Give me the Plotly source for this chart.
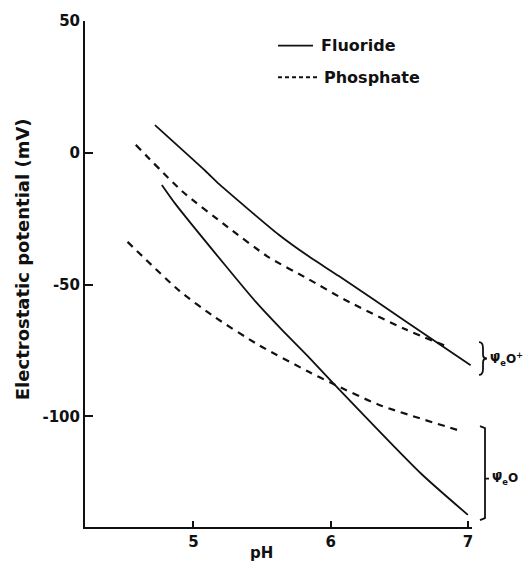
import plotly.graph_objects as go

# ---- data ----
fluoride_upper_ph = [4.72, 5.09, 5.19, 5.62, 5.84, 6.06, 6.54, 7.02]
fluoride_upper_mv = [10.5, -7.0, -12.0, -31.0, -39.3, -46.8, -63.7, -80.6]

fluoride_lower_ph = [4.77, 4.87, 5.23, 5.45, 5.64, 5.84, 6.02, 6.66, 7.0]
fluoride_lower_mv = [-12.2, -19.5, -42.6, -56.3, -66.9, -77.5, -87.5, -121.8, -137.4]

phosphate_upper_ph = [4.58, 4.92, 5.25, 5.55, 5.84, 6.10, 6.54, 6.83]
phosphate_upper_mv = [3.0, -14.7, -28.2, -39.7, -48.0, -55.7, -66.9, -73.1]

phosphate_lower_ph = [4.52, 4.90, 5.16, 5.48, 5.84, 6.01, 6.35, 6.95]
phosphate_lower_mv = [-33.8, -52.5, -62.5, -73.1, -83.1, -87.5, -95.6, -105.6]

x_ticks = [5, 6, 7]
y_ticks = [50, 0, -50, -100]
y_tick_labels = ["50", "0", "-50", "-100"]

X_RANGE = [4.21, 7.03]
Y_RANGE = [-142, 50]

FONT = "DejaVu Sans"
INK = "#111111"

fig = go.Figure()
line_solid = dict(color=INK, width=1.8, shape="spline", smoothing=0.6)
line_dash = dict(color=INK, width=2.2, dash="7px,6px", shape="spline", smoothing=0.6)

fig.add_trace(go.Scatter(x=fluoride_upper_ph, y=fluoride_upper_mv, mode="lines", line=line_solid, name="Fluoride"))
fig.add_trace(go.Scatter(x=fluoride_lower_ph, y=fluoride_lower_mv, mode="lines", line=line_solid, showlegend=False))
fig.add_trace(go.Scatter(x=phosphate_upper_ph, y=phosphate_upper_mv, mode="lines", line=line_dash, name="Phosphate"))
fig.add_trace(go.Scatter(x=phosphate_lower_ph, y=phosphate_lower_mv, mode="lines", line=line_dash, showlegend=False))

W, H = 526, 566
ML, MR, MT, MB = 85, 54, 15, 39
PW, PH = W - ML - MR, H - MT - MB


def px(xp):
    return (xp - ML) / PW


def py(yp):
    return 1 - (yp - MT) / PH


shapes = []
annotations = []


def txt(s, x, y, size, xanchor="left", angle=0, weight="bold"):
    annotations.append(dict(text=s, xref="paper", yref="paper", x=px(x), y=py(y), xanchor=xanchor,
                            yanchor="middle", textangle=angle, showarrow=False,
                            font=dict(family=FONT, size=size, color=INK, weight=weight)))


# manual legend
shapes.append(dict(type="line", xref="paper", yref="paper", x0=px(278), x1=px(313), y0=py(40), y1=py(40),
                   line=dict(color=INK, width=1.8)))
shapes.append(dict(type="line", xref="paper", yref="paper", x0=px(278), x1=px(319), y0=py(72), y1=py(72),
                   line=dict(color=INK, width=2, dash="4px,3px")))
txt("Fluoride", 319, 40, 16)
txt("Phosphate", 322, 72, 16)

# upper brace "}"
bx, t, b = 479, 340, 373
m = (t + b) / 2
path = (f"M {px(bx)},{py(t)} Q {px(bx+4)},{py(t)} {px(bx+4)},{py(t+6)} L {px(bx+4)},{py(m-4)} "
        f"Q {px(bx+4)},{py(m)} {px(bx+8)},{py(m)} Q {px(bx+4)},{py(m)} {px(bx+4)},{py(m+4)} "
        f"L {px(bx+4)},{py(b-6)} Q {px(bx+4)},{py(b)} {px(bx)},{py(b)}")
shapes.append(dict(type="path", xref="paper", yref="paper", path=path, line=dict(color=INK, width=1.8)))
txt("Ψ̄<sub>e</sub>O<sup>+</sup>", 488, 357, 12)

# lower bracket
bx, t, b = 480, 425, 520
m = 478
path = (f"M {px(bx)},{py(t)} L {px(bx+5)},{py(t+2)} L {px(bx+5)},{py(b-2)} L {px(bx)},{py(b)} "
        f"M {px(bx+5)},{py(m)} L {px(bx+9)},{py(m)}")
shapes.append(dict(type="path", xref="paper", yref="paper", path=path, line=dict(color=INK, width=1.8)))
txt("Ψ̄<sub>e</sub>O", 490, 478, 12)

# axis titles
txt("Electrostatic potential (mV)", 22, 256, 18, xanchor="center", angle=-90)
txt("pH", 261, 553, 15, xanchor="center")

tickfont = dict(family=FONT, size=15, color=INK, weight="bold")
fig.update_layout(
    width=W, height=H,
    margin=dict(l=ML, r=MR, t=MT, b=MB),
    paper_bgcolor="white", plot_bgcolor="white",
    showlegend=False,
    shapes=shapes, annotations=annotations,
    font=dict(family=FONT, size=15, color=INK),
    xaxis=dict(range=X_RANGE, tickvals=x_ticks, ticktext=[str(v) for v in x_ticks], ticks="inside",
               ticklen=6, tickwidth=1.5, tickcolor=INK, showline=True, linecolor=INK, linewidth=2,
               showgrid=False, zeroline=False, tickfont=tickfont),
    yaxis=dict(range=Y_RANGE, tickvals=y_ticks, ticktext=y_tick_labels, ticks="inside",
               ticklen=8, tickwidth=2, tickcolor=INK, showline=True, linecolor=INK, linewidth=2,
               showgrid=False, zeroline=False, tickfont=tickfont),
)

fig.write_html("out.html")
